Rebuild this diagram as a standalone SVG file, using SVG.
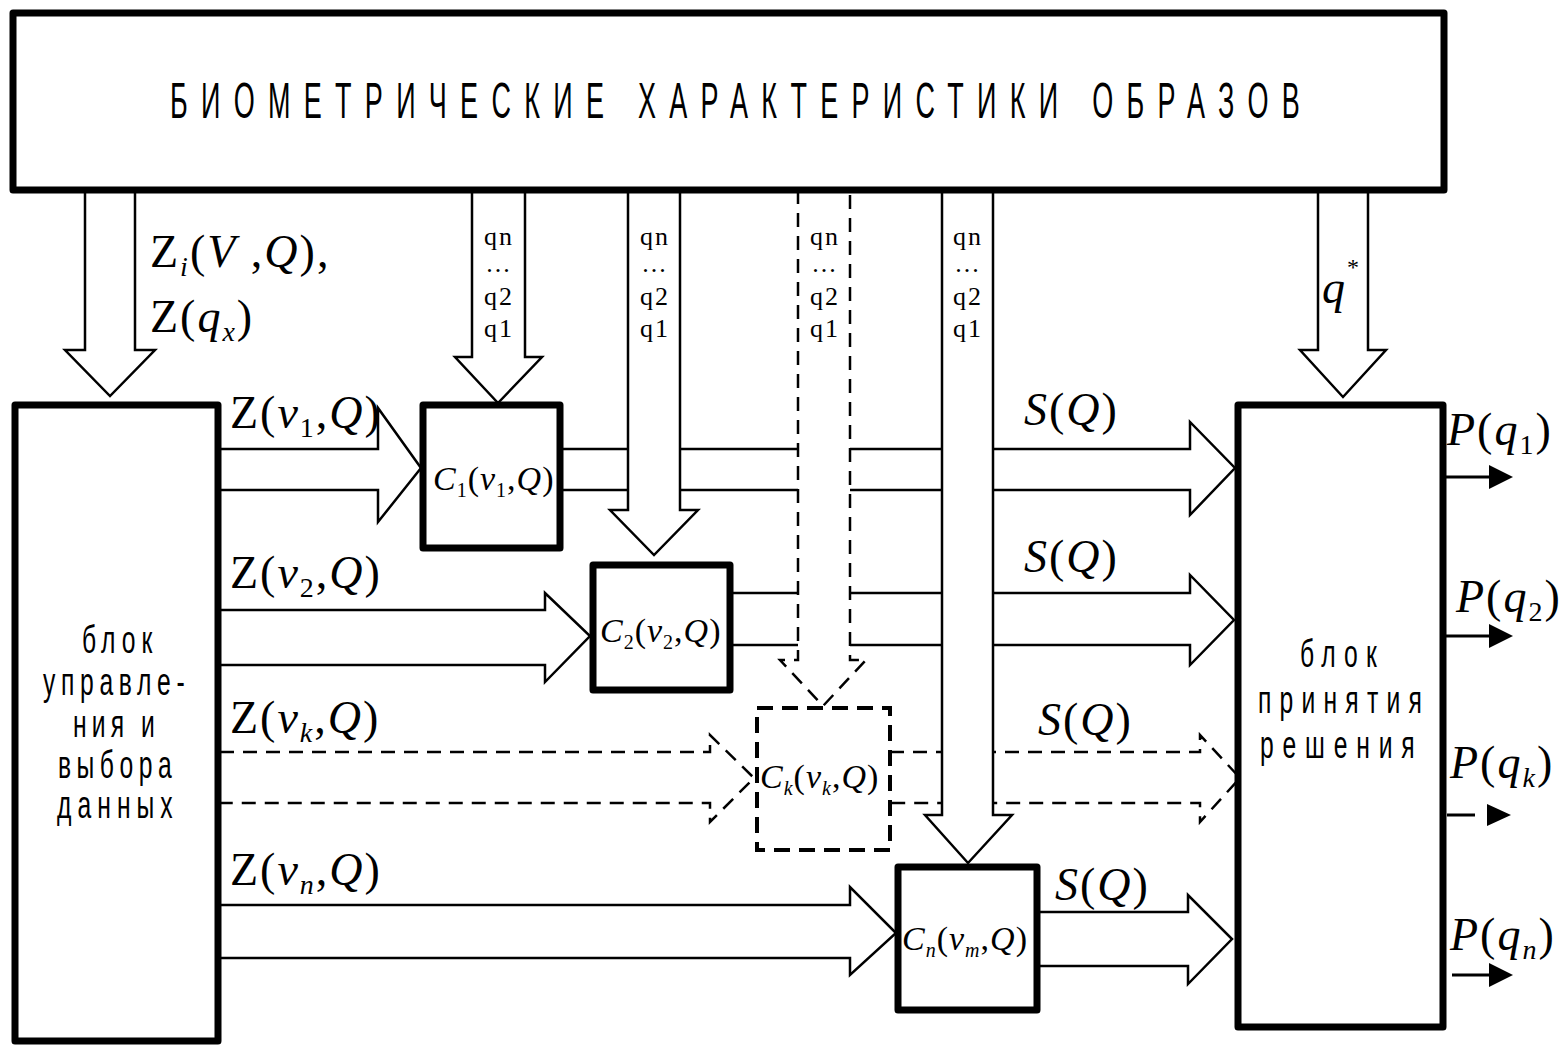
<svg xmlns="http://www.w3.org/2000/svg" width="1564" height="1046" viewBox="0 0 1564 1046">
<style>
.box{fill:#fff;stroke:#000;stroke-width:7;stroke-linejoin:round}
.dbox{fill:#fff;stroke:#000;stroke-width:4;stroke-dasharray:16 9}
.arr{fill:#fff;stroke:#000;stroke-width:2.5;stroke-linejoin:miter}
.darr{fill:#fff;stroke:#000;stroke-width:2.5;stroke-dasharray:14 9}
.out{stroke:#000;stroke-width:3;fill:none}
.tri{fill:#000}
.m{font-family:"Liberation Serif","Times New Roman",serif;font-size:46px;letter-spacing:2px;fill:#000}
.c{font-family:"Liberation Serif","Times New Roman",serif;font-size:34px;letter-spacing:1px;fill:#000}
.i{font-style:italic}
.q{font-family:"Liberation Serif","Times New Roman",serif;font-size:26px;fill:#000;text-anchor:middle;letter-spacing:2px}
.s{font-family:"Liberation Sans",Arial,sans-serif;fill:#000}
</style>

<g id="connectors">
  <path class="arr" d="M220,449 H378 V408 L421,468 L378,522 V490 H220"/>
  <path class="arr" d="M560,449 H1190 V422 L1235,468 L1190,515 V490 H560"/>
  <path class="arr" d="M220,610 H545 V593 L590,636 L545,682 V665 H220"/>
  <path class="arr" d="M730,593 H1190 V575 L1234,620 L1190,665 V645 H730"/>
  <path class="darr" d="M220,752 H710 V735 L754,778 L710,822 V803 H220"/>
  <path class="darr" d="M890,752 H1200 V735 L1240,778 L1200,822 V803 H890"/>
  <path class="arr" d="M220,905 H850 V887 L896,933 L850,975 V958 H220"/>
  <path class="arr" d="M1037,912 H1188 V895 L1232,939 L1188,984 V966 H1037"/>
  <path class="arr" d="M85,190 V350 H65 L110,396 L155,350 H135 V190"/>
  <path class="arr" d="M472,190 V357 H455 L498,403 L542,357 H525 V190"/>
  <path class="arr" d="M628,190 V510 H610 L654,555 L698,510 H680 V190"/>
  <path class="darr" d="M798,190 V660 H780 L823,706 L866,660 H850 V190"/>
  <path class="arr" d="M942,190 V815 H925 L968,863 L1012,815 H993 V190"/>
  <path class="arr" d="M1318,190 V350 H1300 L1343,397 L1386,350 H1368 V190"/>
  <line class="out" x1="1443" y1="477" x2="1492" y2="477"/>
  <polygon class="tri" points="1489,465 1513,477 1489,489"/>
  <line class="out" x1="1443" y1="636" x2="1492" y2="636"/>
  <polygon class="tri" points="1489,624 1513,636 1489,648"/>
  <line class="out" x1="1447" y1="815" x2="1475" y2="815"/>
  <polygon class="tri" points="1487,804 1511,815 1487,826"/>
  <line class="out" x1="1452" y1="975" x2="1492" y2="975"/>
  <polygon class="tri" points="1489,963 1513,975 1489,987"/>
</g>

<g id="top">
  <rect class="box" x="13" y="13" width="1431" height="177"/>
  <text class="s" font-size="50" transform="translate(170,118) scale(0.54,1)" x="0" y="0" textLength="2092" lengthAdjust="spacing">БИОМЕТРИЧЕСКИЕ ХАРАКТЕРИСТИКИ ОБРАЗОВ</text>
</g>

<g id="left-block">
  <rect class="box" x="15" y="405" width="203" height="636"/>
  <text class="s" font-size="38" transform="translate(82,653) scale(0.65,1)" textLength="108" lengthAdjust="spacing">блок</text>
  <text class="s" font-size="38" transform="translate(43,695) scale(0.65,1)" textLength="218" lengthAdjust="spacing">управле-</text>
  <text class="s" font-size="38" transform="translate(73,737) scale(0.65,1)" textLength="126" lengthAdjust="spacing">ния и</text>
  <text class="s" font-size="38" transform="translate(58,778) scale(0.65,1)" textLength="175" lengthAdjust="spacing">выбора</text>
  <text class="s" font-size="38" transform="translate(57,818) scale(0.65,1)" textLength="178" lengthAdjust="spacing">данных</text>
</g>

<g id="right-block">
  <rect class="box" x="1238" y="405" width="205" height="622"/>
  <text class="s" font-size="38" transform="translate(1300,667) scale(0.65,1)" textLength="118" lengthAdjust="spacing">блок</text>
  <text class="s" font-size="38" transform="translate(1258,713) scale(0.65,1)" textLength="252" lengthAdjust="spacing">принятия</text>
  <text class="s" font-size="38" transform="translate(1260,758) scale(0.65,1)" textLength="238" lengthAdjust="spacing">решения</text>
</g>

<g id="c1">
  <rect class="box" x="423" y="405" width="137" height="143"/>
  <text class="c" x="433" y="490"><tspan class="i">C</tspan><tspan font-size="20" dy="7">1</tspan><tspan dy="-7">(</tspan><tspan class="i">v</tspan><tspan font-size="20" dy="7">1</tspan><tspan dy="-7">,</tspan><tspan class="i">Q</tspan>)</text>
</g>
<g id="c2">
  <rect class="box" x="593" y="565" width="137" height="125"/>
  <text class="c" x="600" y="642"><tspan class="i">C</tspan><tspan font-size="20" dy="7">2</tspan><tspan dy="-7">(</tspan><tspan class="i">v</tspan><tspan font-size="20" dy="7">2</tspan><tspan dy="-7">,</tspan><tspan class="i">Q</tspan>)</text>
</g>
<g id="ck">
  <rect class="dbox" x="757" y="708" width="133" height="142"/>
  <text class="c" x="760" y="788"><tspan class="i">C</tspan><tspan class="i" font-size="20" dy="7">k</tspan><tspan dy="-7">(</tspan><tspan class="i">v</tspan><tspan class="i" font-size="20" dy="7">k</tspan><tspan dy="-7">,</tspan><tspan class="i">Q</tspan>)</text>
</g>
<g id="cn">
  <rect class="box" x="898" y="867" width="139" height="143"/>
  <text class="c" x="902" y="950"><tspan class="i">C</tspan><tspan class="i" font-size="20" dy="7">n</tspan><tspan dy="-7">(</tspan><tspan class="i">v</tspan><tspan class="i" font-size="20" dy="7">m</tspan><tspan dy="-7">,</tspan><tspan class="i">Q</tspan>)</text>
</g>

<g id="labels">
  <text class="m" x="150" y="267">Z<tspan class="i" font-size="28" dy="9">i</tspan><tspan dy="-9">(</tspan><tspan class="i">V</tspan> ,<tspan class="i">Q</tspan>),</text>
  <text class="m" x="150" y="332">Z(<tspan class="i">q</tspan><tspan class="i" font-size="28" dy="9">x</tspan><tspan dy="-9">)</tspan></text>

  <text class="m" x="230" y="428">Z(<tspan class="i">v</tspan><tspan font-size="28" dy="9">1</tspan><tspan dy="-9">,</tspan><tspan class="i">Q</tspan>)</text>
  <text class="m" x="230" y="588">Z(<tspan class="i">v</tspan><tspan font-size="28" dy="9">2</tspan><tspan dy="-9">,</tspan><tspan class="i">Q</tspan>)</text>
  <text class="m" x="230" y="733">Z(<tspan class="i">v</tspan><tspan class="i" font-size="28" dy="9">k</tspan><tspan dy="-9">,</tspan><tspan class="i">Q</tspan>)</text>
  <text class="m" x="230" y="885">Z(<tspan class="i">v</tspan><tspan class="i" font-size="28" dy="9">n</tspan><tspan dy="-9">,</tspan><tspan class="i">Q</tspan>)</text>

  <text class="m" x="1024" y="425"><tspan class="i">S</tspan>(<tspan class="i">Q</tspan>)</text>
  <text class="m" x="1024" y="572"><tspan class="i">S</tspan>(<tspan class="i">Q</tspan>)</text>
  <text class="m" x="1038" y="735"><tspan class="i">S</tspan>(<tspan class="i">Q</tspan>)</text>
  <text class="m" x="1055" y="900"><tspan class="i">S</tspan>(<tspan class="i">Q</tspan>)</text>

  <text class="m" x="1322" y="303"><tspan class="i">q</tspan><tspan font-size="24" dy="-28">*</tspan></text>

  <text class="m" x="1447" y="445"><tspan class="i">P</tspan>(<tspan class="i">q</tspan><tspan font-size="28" dy="9">1</tspan><tspan dy="-9">)</tspan></text>
  <text class="m" x="1456" y="612"><tspan class="i">P</tspan>(<tspan class="i">q</tspan><tspan font-size="28" dy="9">2</tspan><tspan dy="-9">)</tspan></text>
  <text class="m" x="1450" y="778"><tspan class="i">P</tspan>(<tspan class="i">q</tspan><tspan class="i" font-size="28" dy="9">k</tspan><tspan dy="-9">)</tspan></text>
  <text class="m" x="1450" y="950"><tspan class="i">P</tspan>(<tspan class="i">q</tspan><tspan class="i" font-size="28" dy="9">n</tspan><tspan dy="-9">)</tspan></text>

  <g class="q">
    <text x="499" y="245">qn</text><text x="499" y="272">...</text><text x="499" y="305">q2</text><text x="499" y="337">q1</text>
    <text x="655" y="245">qn</text><text x="655" y="272">...</text><text x="655" y="305">q2</text><text x="655" y="337">q1</text>
    <text x="825" y="245">qn</text><text x="825" y="272">...</text><text x="825" y="305">q2</text><text x="825" y="337">q1</text>
    <text x="968" y="245">qn</text><text x="968" y="272">...</text><text x="968" y="305">q2</text><text x="968" y="337">q1</text>
  </g>
</g>
</svg>
